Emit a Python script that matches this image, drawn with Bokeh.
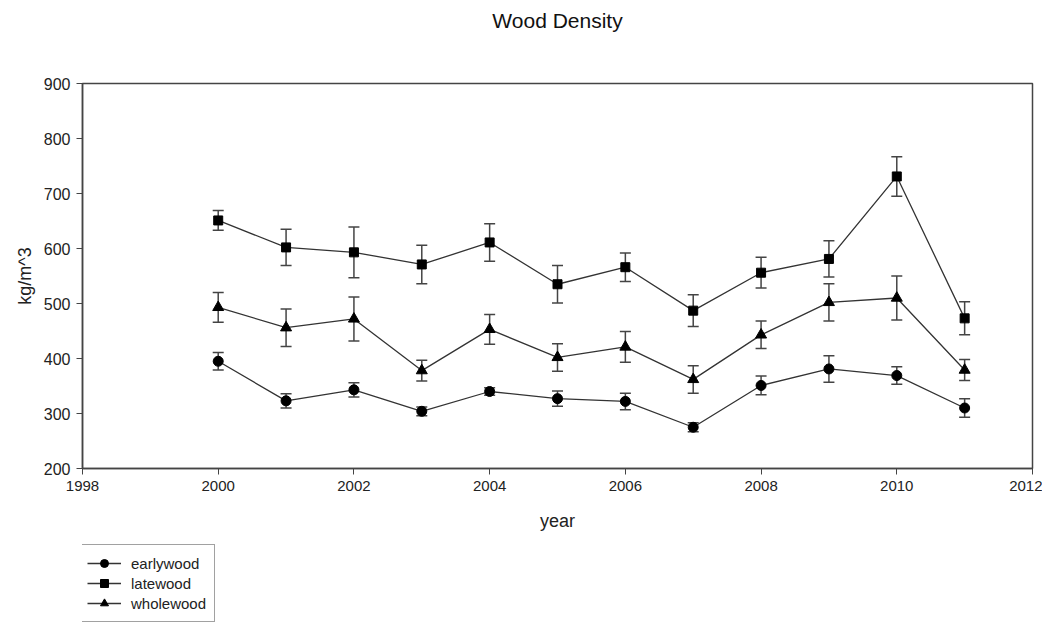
from bokeh.plotting import figure
from bokeh.layouts import column
from bokeh.models import (ColumnDataSource, Whisker, TeeHead, Legend, LegendItem,
                          FixedTicker, Range1d, Title)
from bokeh.embed import file_html
from bokeh.resources import INLINE

years = [2000, 2001, 2002, 2003, 2004, 2005, 2006, 2007, 2008, 2009, 2010, 2011]
earlywood = [395, 323, 343, 304, 340, 327, 322, 275, 351, 381, 369, 310]
earlywood_err = [16, 13, 13, 8, 7, 14, 15, 8, 17, 24, 16, 17]
latewood = [651, 602, 593, 571, 611, 535, 566, 487, 556, 581, 731, 473]
latewood_err = [18, 33, 46, 35, 34, 34, 26, 29, 28, 33, 36, 30]
wholewood = [493, 456, 472, 378, 453, 402, 421, 362, 443, 502, 510, 379]
wholewood_err = [27, 34, 40, 19, 27, 25, 28, 25, 25, 34, 40, 19]
series_names = ["earlywood", "latewood", "wholewood"]
x_ticks = [1998, 2000, 2002, 2004, 2006, 2008, 2010, 2012]
y_ticks = [200, 300, 400, 500, 600, 700, 800, 900]

FONT = "Liberation Sans"
LINE = "#333333"
MARKERS = [("circle", 10), ("square", 9), ("triangle", 11)]

p = figure(width=1042, height=540, output_backend="svg", toolbar_location=None,
           x_range=Range1d(1998, 2012), y_range=Range1d(200, 900), title=None,
           min_border_left=82, min_border_right=10, min_border_top=83, min_border_bottom=72)
# spacer between the chart title and the frame
p.add_layout(Title(text=" ", text_font_size="10px", standoff=34), "above")
p.add_layout(Title(text="Wood Density", align="center", text_font=FONT,
                   text_font_size="21px", text_font_style="normal",
                   text_color="#111111", standoff=10), "above")
p.xgrid.visible = False
p.ygrid.visible = False
p.outline_line_color = "#444444"
p.outline_line_width = 1.5

for ax in (p.xaxis, p.yaxis):
    ax.major_label_text_font = FONT
    ax.major_label_text_font_size = "15px"
    ax.major_label_text_color = "#222222"
    ax.axis_label_text_font = FONT
    ax.axis_label_text_font_size = "18px"
    ax.axis_label_text_font_style = "normal"
    ax.axis_label_text_color = "#222222"
    ax.axis_line_color = "#444444"
    ax.axis_line_width = 1.5
    ax.major_tick_line_color = "#444444"
    ax.major_tick_out = 6
    ax.major_tick_in = 0
    ax.minor_tick_line_color = None

p.yaxis.major_label_text_font_size = "16px"
p.xaxis.ticker = FixedTicker(ticks=x_ticks)
p.yaxis.ticker = FixedTicker(ticks=y_ticks)
p.xaxis.axis_label = "year"
p.yaxis.axis_label = "kg/m^3"
p.xaxis.major_label_standoff = 6
p.xaxis.axis_label_standoff = 17
p.yaxis.major_label_standoff = 6
p.yaxis.axis_label_standoff = 6

# legend panel: a second, axis-less figure below the chart
lg = figure(width=1042, height=84, output_backend="svg", toolbar_location=None,
            x_range=Range1d(0, 1), y_range=Range1d(0, 1),
            min_border=0)
lg.axis.visible = False
lg.xgrid.visible = False
lg.ygrid.visible = False
lg.outline_line_color = None

items = []
data = [(earlywood, earlywood_err), (latewood, latewood_err), (wholewood, wholewood_err)]
for name, (vals, errs), (marker, size) in zip(series_names, data, MARKERS):
    src = ColumnDataSource(dict(x=years, y=vals,
                                upper=[v + e for v, e in zip(vals, errs)],
                                lower=[v - e for v, e in zip(vals, errs)]))
    w = Whisker(base="x", upper="upper", lower="lower", source=src,
                line_color="#444444", line_width=1.5,
                upper_head=TeeHead(size=11, line_color="#444444", line_width=1.5),
                lower_head=TeeHead(size=11, line_color="#444444", line_width=1.5))
    p.add_layout(w)
    p.line("x", "y", source=src, line_color=LINE, line_width=1.3)
    p.scatter("x", "y", source=src, marker=marker, size=size,
              fill_color="black", line_color="black")
    # same series in the legend figure; its points fall outside that figure's range
    ln = lg.line("x", "y", source=src, line_color=LINE, line_width=1.3)
    sc = lg.scatter("x", "y", source=src, marker=marker, size=size,
                    fill_color="black", line_color="black")
    items.append(LegendItem(label=name, renderers=[ln, sc]))

legend = Legend(items=items)
legend.label_text_font = FONT
legend.label_text_font_size = "15px"
legend.label_text_color = "#222222"
legend.border_line_color = "#444444"
legend.border_line_width = 1
legend.glyph_width = 34
legend.glyph_height = 20
legend.spacing = 0
legend.padding = 8
legend.label_height = 18
legend.label_standoff = 10
legend.margin = 0
legend.location = (-4, 2)
lg.add_layout(legend)

layout = column(p, lg, spacing=0)
open("out.html", "w").write(file_html(layout, INLINE))
